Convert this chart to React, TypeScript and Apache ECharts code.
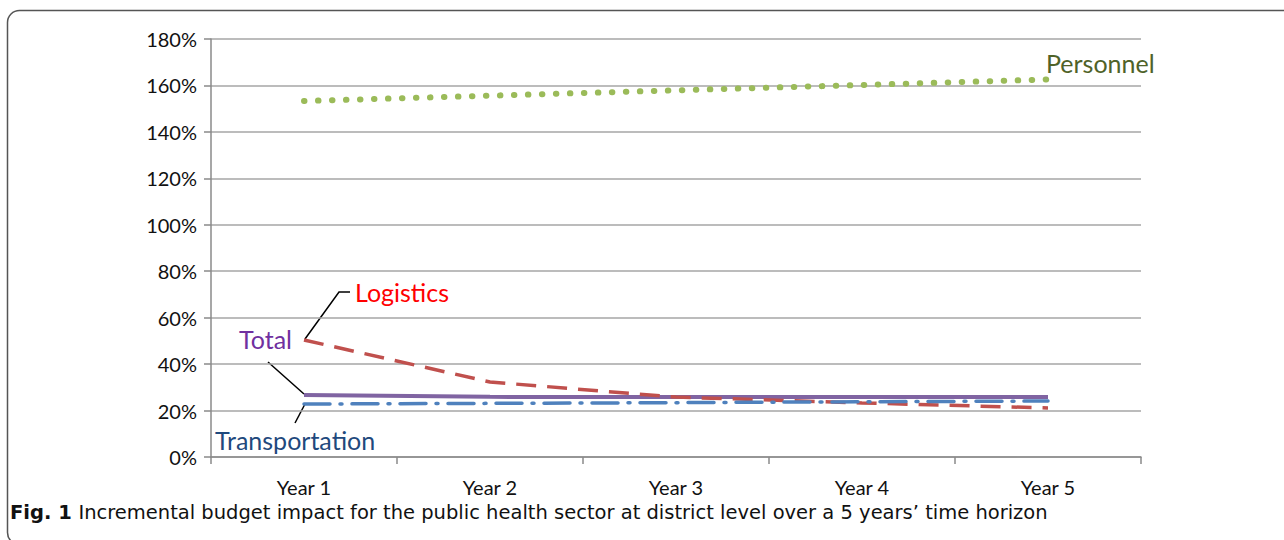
import React, { useEffect, useRef } from "react";
import * as echarts from "echarts";

const categories = ["Year 1", "Year 2", "Year 3", "Year 4", "Year 5"];
const personnel = [153.3, 155.6, 157.9, 160.2, 162.6];
const logistics = [50.4, 32.3, 25.8, 23.3, 21.1];
const total = [26.7, 25.9, 25.8, 25.8, 25.8];
const transportation = [22.8, 23.1, 23.4, 23.8, 24.1];
const yTicks = { min: 0, max: 180, interval: 20 };
const caption = "Incremental budget impact for the public health sector at district level over a 5 years\u2019 time horizon";

const FONT = "Lato, 'Open Sans', sans-serif";
const CAP_FONT = "'DejaVu Sans', 'Open Sans', sans-serif";

export default function App() {
  const ref = useRef<HTMLDivElement>(null);
  useEffect(() => {
    if (!ref.current) return;
    const chart = echarts.init(ref.current, null, { renderer: "svg" });
    const labelStyle = (fill: string) => ({ fill, fontSize: 25, fontFamily: FONT });
    chart.setOption({
      animation: false,
      backgroundColor: "#fff",
      grid: { left: 211, right: 143, top: 39, bottom: 83 },
      xAxis: {
        type: "category",
        data: categories,
        boundaryGap: true,
        axisLine: { lineStyle: { color: "#8a8a8a", width: 1.5 } },
        axisTick: { show: true, length: 7, inside: false, lineStyle: { color: "#8a8a8a", width: 1.5 } },
        axisLabel: { color: "#111", fontSize: 20, fontFamily: FONT, margin: 19, lineHeight: 22 },
      },
      yAxis: {
        type: "value",
        min: yTicks.min,
        max: yTicks.max,
        interval: yTicks.interval,
        axisLine: { show: true, lineStyle: { color: "#8a8a8a", width: 1.5 } },
        axisTick: { show: true, length: 7, lineStyle: { color: "#8a8a8a", width: 1.5 } },
        axisLabel: { color: "#111", fontSize: 20, fontFamily: FONT, margin: 14, formatter: "{value}%" },
        splitLine: { lineStyle: { color: "#a6a6a6", width: 1.5 } },
      },
      series: [
        {
          name: "Personnel",
          type: "line",
          data: personnel,
          symbol: "none",
          lineStyle: { color: "#9BBB59", width: 6, type: [0.5, 13.5], cap: "round" },
        },
        {
          name: "Logistics",
          type: "line",
          data: logistics,
          symbol: "none",
          z: 3,
          lineStyle: { color: "#C0504D", width: 3.5, type: [20, 11] },
        },
        {
          name: "Total",
          type: "line",
          data: total,
          symbol: "none",
          z: 2,
          lineStyle: { color: "#8064A2", width: 4 },
        },
        {
          name: "Transportation",
          type: "line",
          data: transportation,
          symbol: "none",
          z: 4,
          lineStyle: { color: "#4F81BD", width: 3.5, type: [26, 10, 2, 10], cap: "round" },
        },
      ],
      graphic: [
        {
          type: "rect",
          shape: { x: 7.5, y: 10.5, width: 1300, height: 534, r: 12 },
          style: { fill: "none", stroke: "#555", lineWidth: 1.5 },
          silent: true,
        },
        { type: "text", left: 1046, top: 50, style: { text: "Personnel", ...labelStyle("#4F6228") } },
        { type: "text", left: 355, top: 279, style: { text: "Logistics", ...labelStyle("#FF0000") } },
        { type: "text", left: 239, top: 326, style: { text: "Total", ...labelStyle("#7030A0") } },
        { type: "text", left: 215, top: 427, style: { text: "Transportation", ...labelStyle("#1F497D") } },
        {
          type: "polyline",
          shape: { points: [[305, 339], [339, 292], [350, 292]] },
          style: { stroke: "#000", lineWidth: 1.5, fill: "none" },
        },
        {
          type: "polyline",
          shape: { points: [[268, 362], [304, 394]] },
          style: { stroke: "#000", lineWidth: 1.5, fill: "none" },
        },
        {
          type: "polyline",
          shape: { points: [[295, 423], [305, 404]] },
          style: { stroke: "#000", lineWidth: 1.5, fill: "none" },
        },
        {
          type: "text",
          left: 10,
          top: 502,
          style: {
            text: "{b|Fig. 1}  {n|" + caption + "}",
            rich: {
              b: { fontWeight: "bold", fontSize: 19.5, lineHeight: 22, fontFamily: CAP_FONT, fill: "#111" },
              n: { fontSize: 19.5, lineHeight: 22, fontFamily: CAP_FONT, fill: "#111" },
            },
          },
        },
      ],
    });
    return () => chart.dispose();
  }, []);
  return (
    <div
      ref={ref}
      style={{ position: "absolute", left: 0, top: 0, width: 1284, height: 540 }}
    />
  );
}
